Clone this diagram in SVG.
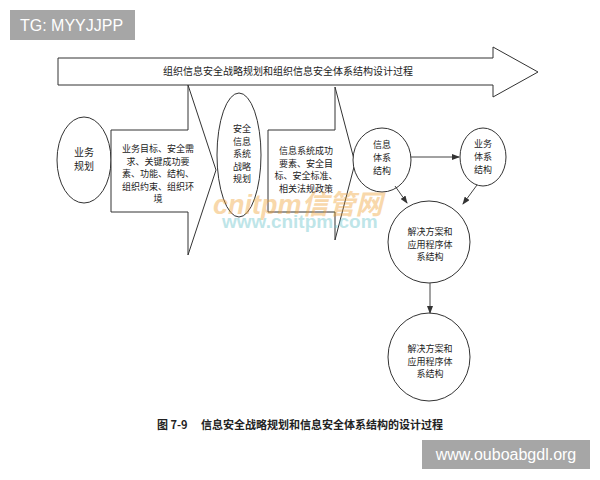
<svg xmlns="http://www.w3.org/2000/svg" width="600" height="480" viewBox="0 0 600 480">
<defs>
<style>
.s{fill:#fff;stroke:#333;stroke-width:1}
.t{font-family:"Noto Sans CJK SC","Noto Sans",sans-serif;font-size:9px;fill:#222;text-anchor:middle}
.c{fill:none;stroke:#444;stroke-width:1}
.wm{font-family:"Liberation Sans",sans-serif;fill:#fff;font-size:16px}
</style>
<marker id="ah" markerWidth="8" markerHeight="6" refX="7" refY="3" orient="auto" markerUnits="userSpaceOnUse">
<path d="M0,0 L8,3 L0,6 Z" fill="#333"/>
</marker>
</defs>
<rect width="600" height="480" fill="#fff"/>
<g id="tg"><rect x="10" y="10" width="125" height="30" fill="#a6a6a6"/><text class="wm" x="20" y="31">TG: MYYJJPP</text></g>
<g id="bigarrow">
<path class="s" d="M58,58 L493,58 L493,47 L538,72 L493,97 L493,85 L58,85 Z"/>
<text class="t" x="288" y="75" style="font-size:10px">组织信息安全战略规划和组织信息安全体系结构设计过程</text>
</g>
<g id="n1">
<ellipse class="s" cx="84" cy="160" rx="27" ry="43"/>
<text class="t" x="84" y="156" style="font-size:10px">业务</text><text class="t" x="84" y="170" style="font-size:10px">规划</text>
</g>
<g id="a1">
<path class="s" d="M111,130 L188,130 L188,85 L216,170 L188,255 L188,212 L111,212 Z"/>
<text class="t" x="158" y="152">业务目标、安全需</text>
<text class="t" x="158" y="164.5">求、关键成功要</text>
<text class="t" x="158" y="177">素、功能、结构、</text>
<text class="t" x="158" y="189.5">组织约束、组织环</text>
<text class="t" x="158" y="202">境</text>
</g>
<g id="n2">
<ellipse class="s" cx="239" cy="155" rx="22" ry="62"/>
<text class="t" x="242" y="132">安全</text>
<text class="t" x="242" y="144.5">信息</text>
<text class="t" x="242" y="157">系统</text>
<text class="t" x="242" y="169.5">战略</text>
<text class="t" x="242" y="182">规划</text>
</g>
<g id="a2">
<path class="s" d="M268,130 L335,130 L335,87 L355,163 L335,240 L335,212 L268,212 Z"/>
<text class="t" x="306" y="154">信息系统成功</text>
<text class="t" x="306" y="166.5">要素、安全目</text>
<text class="t" x="306" y="179">标、安全标准、</text>
<text class="t" x="306" y="191.5">相关法规政策</text>
</g>
<g id="n3">
<ellipse class="s" cx="382" cy="160" rx="29" ry="32"/>
<text class="t" x="382" y="148">信息</text>
<text class="t" x="382" y="161">体系</text>
<text class="t" x="382" y="174">结构</text>
</g>
<g id="n4">
<ellipse class="s" cx="483" cy="157" rx="23" ry="29"/>
<text class="t" x="483" y="147">业务</text>
<text class="t" x="483" y="160">体系</text>
<text class="t" x="483" y="173">结构</text>
</g>
<g id="n5">
<ellipse class="s" cx="429" cy="242" rx="41" ry="41"/>
<text class="t" x="430" y="235">解决方案和</text>
<text class="t" x="430" y="247.5">应用程序体</text>
<text class="t" x="430" y="260">系结构</text>
</g>
<g id="n6">
<ellipse class="s" cx="429" cy="357" rx="41" ry="44"/>
<text class="t" x="430" y="352">解决方案和</text>
<text class="t" x="430" y="364.5">应用程序体</text>
<text class="t" x="430" y="377">系结构</text>
</g>
<g id="connectors">
<line class="c" x1="411" y1="157" x2="459" y2="157" marker-end="url(#ah)"/>
<line class="c" x1="477" y1="185" x2="463" y2="204" marker-end="url(#ah)"/>
<line class="c" x1="395" y1="186" x2="407" y2="203" marker-end="url(#ah)"/>
<line class="c" x1="430" y1="283" x2="430" y2="313" marker-end="url(#ah)"/>
</g>
<g id="caption">
<text x="300" y="429" font-family="'Noto Sans CJK SC',sans-serif" font-size="11" font-weight="bold" fill="#222" text-anchor="middle">图 7-9　 信息安全战略规划和信息安全体系结构的设计过程</text>
</g>
<g id="site"><rect x="422" y="440" width="168" height="29" fill="#a6a6a6"/><text class="wm" x="506" y="460" text-anchor="middle" font-size="15">www.ouboabgdl.org</text></g>
<g id="watermark" opacity="0.4">
<text x="213" y="214" font-family="'Liberation Sans','Noto Sans CJK SC',sans-serif" font-size="27" font-weight="bold" font-style="italic" fill="#f0a030">cnitpm信管网</text>
<text x="222" y="228" font-family="'Liberation Sans',sans-serif" font-size="19" font-weight="bold" fill="#60c0c8">www.cnitpm.com</text>
</g>
</svg>
